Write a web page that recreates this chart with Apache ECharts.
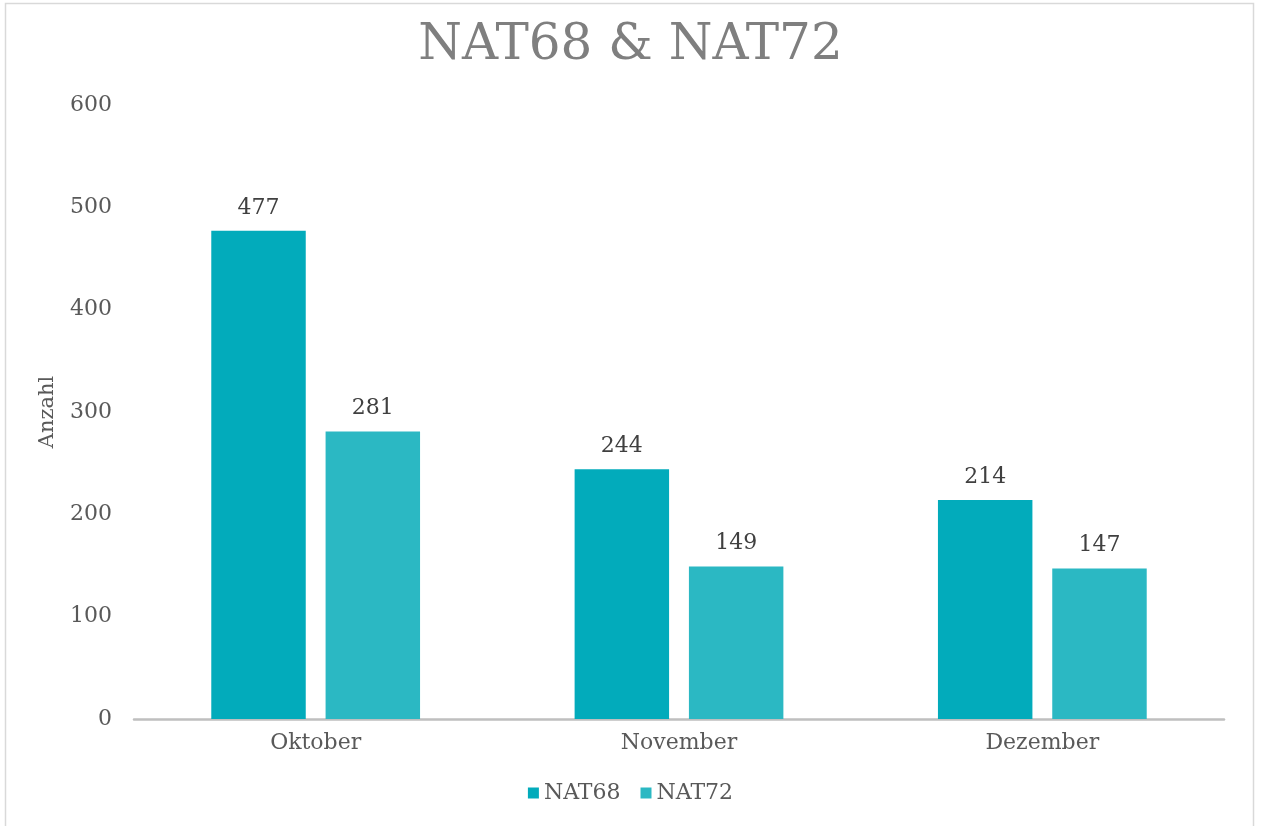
<!DOCTYPE html>
<html><head><meta charset="utf-8">
<script src="https://cdn.jsdelivr.net/npm/echarts@6/dist/echarts.min.js"></script>
<style>html,body{margin:0;padding:0;background:#fff}#c{width:1261px;height:826px}</style>
</head><body><div id="c"></div>
<script>
const categories = ['Oktober', 'November', 'Dezember'];
const nat68 = [477, 244, 214];
const nat72 = [281, 149, 147];
const seriesNames = ['NAT68', 'NAT72'];
const yTicks = [0, 100, 200, 300, 400, 500, 600];

const font = '"DejaVu Serif", serif';
const chart = echarts.init(document.getElementById('c'), null, {renderer: 'canvas'});
chart.setOption({
  backgroundColor: '#ffffff',
  animation: false,
  textStyle: {fontFamily: font},
  graphic: [{type: 'rect', shape: {x: 5.5, y: 3.5, width: 1248, height: 830}, style: {fill: 'none', stroke: '#d9d9d9', lineWidth: 1.5}, silent: true}],
  title: {text: 'NAT68 & NAT72', left: 'center', top: 16,
    textStyle: {fontFamily: font, fontSize: 50, fontWeight: 'normal', color: '#7f7f7f'}},
  legend: {data: seriesNames, bottom: 17, left: 'center', itemWidth: 11, itemHeight: 11, itemGap: 20,
    icon: 'rect', textStyle: {fontFamily: font, fontSize: 22, color: '#595959'}},
  grid: {left: 134, right: 37, top: 105, bottom: 107, containLabel: false},
  xAxis: {type: 'category', data: categories,
    axisLine: {lineStyle: {color: '#bfbfbf', width: 2.5}}, axisTick: {show: false},
    axisLabel: {fontFamily: font, fontSize: 22, color: '#595959', margin: 13}},
  yAxis: {type: 'value', min: yTicks[0], max: yTicks[yTicks.length-1], interval: 100,
    name: 'Anzahl', nameLocation: 'middle', nameGap: 76, nameRotate: 90,
    nameTextStyle: {fontFamily: font, fontSize: 21, color: '#595959'},
    axisLine: {show: false}, axisTick: {show: false}, splitLine: {show: false},
    axisLabel: {fontFamily: font, fontSize: 22, color: '#595959', margin: 22}},
  series: [
    {name: seriesNames[0], type: 'bar', data: nat68, barWidth: '26%', barGap: '21%',
      itemStyle: {color: '#02abbb'},
      label: {show: true, position: 'top', distance: 12, fontFamily: font, fontSize: 22, color: '#404040'}},
    {name: seriesNames[1], type: 'bar', data: nat72, barWidth: '26%',
      itemStyle: {color: '#2bb8c3'},
      label: {show: true, position: 'top', distance: 12, fontFamily: font, fontSize: 22, color: '#404040'}}
  ]
});
</script></body></html>
